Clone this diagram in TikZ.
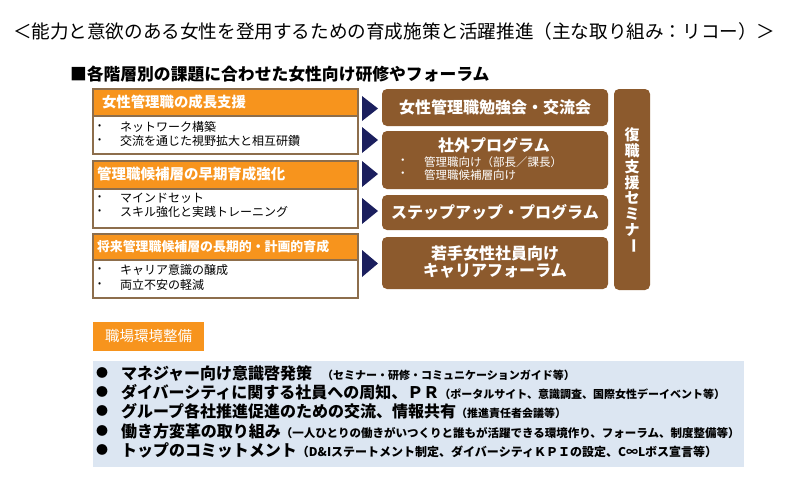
\documentclass[tikz,border=0pt]{standalone}
\usepackage{fontspec}
\setmainfont{Noto Sans CJK JP}
\newcommand{\fs}[1]{\fontsize{#1}{#1}\selectfont}
\definecolor{orng}{HTML}{F7941D}
\definecolor{brwn}{HTML}{8C5A2D}
\definecolor{bord}{HTML}{8D6E4C}
\definecolor{navy}{HTML}{1B1F5E}
\definecolor{lblue}{HTML}{DCE6F2}
\tikzset{
  txt/.style={inner sep=0pt, outer sep=0pt, anchor=west},
  ctxt/.style={inner sep=0pt, outer sep=0pt, anchor=center},
  hdrfill/.style={fill=orng, draw=none},
  boxline/.style={draw=bord, line width=1.3pt},
  brownbox/.style={fill=brwn, draw=none, rounded corners=5pt},
  tri/.style={fill=navy, draw=none},
  wt/.style={text=white},
}
\begin{document}
\begin{tikzpicture}[x=1pt,y=-1pt]
\useasboundingbox[fill=white] (0,0) rectangle (788,493);

% title
\node[txt] (title) at (13,31) {\fs{18.6}＜能力と意欲のある女性を登用するための育成施策と活躍推進（主な取り組み：リコー）＞};
\node[txt] (sec) at (70,74) {\fs{16.8}\bfseries ■各階層別の課題に合わせた女性向け研修やフォーラム};

% left boxes
\fill[orng] (93,89) rectangle (358,116);
\draw[boxline] (93,89) rectangle (358,154);
\draw[boxline] (93,116) -- (358,116);
\node[txt,wt] (h1) at (102,102) {\fs{14.4}\bfseries 女性管理職の成長支援};
\node[txt] (b1a) at (98,127) {\fs{9}•};
\node[txt] (t1a) at (120,127) {\fs{12}ネットワーク構築};
\node[txt] (b1b) at (98,141) {\fs{9}•};
\node[txt] (t1b) at (120,141) {\fs{12}交流を通じた視野拡大と相互研鑽};

\fill[orng] (93,161) rectangle (358,189);
\draw[boxline] (93,161) rectangle (358,228);
\draw[boxline] (93,189) -- (358,189);
\node[txt,wt] (h2) at (97,174) {\fs{14.5}\bfseries 管理職候補層の早期育成強化};
\node[txt] (b2a) at (98,198) {\fs{9}•};
\node[txt] (t2a) at (120,198) {\fs{12}マインドセット};
\node[txt] (b2b) at (98,212) {\fs{9}•};
\node[txt] (t2b) at (120,212) {\fs{12}スキル強化と実践トレーニング};

\fill[orng] (93,234) rectangle (358,260);
\draw[boxline] (93,234) rectangle (358,298);
\draw[boxline] (93,260) -- (358,260);
\node[txt,wt] (h3) at (97,247) {\fs{12.9}\bfseries 将来管理職候補層の長期的・計画的育成};
\node[txt] (b3a) at (98,270) {\fs{9}•};
\node[txt] (t3a) at (120,270) {\fs{12}キャリア意識の醸成};
\node[txt] (b3b) at (98,285) {\fs{9}•};
\node[txt] (t3b) at (120,285) {\fs{12}両立不安の軽減};

% triangles
\fill[tri] (362,96) -- (378,108.5) -- (362,121) -- cycle;
\fill[tri] (362,127) -- (378,140) -- (362,153) -- cycle;
\fill[tri] (362,161) -- (378,174) -- (362,187) -- cycle;
\fill[tri] (362,198) -- (378,211) -- (362,224) -- cycle;
\fill[tri] (362,250) -- (378,263.5) -- (362,277) -- cycle;

% right brown boxes
\fill[brownbox] (382,89) rectangle (608,126);
\node[ctxt,wt] (ra) at (495,107.5) {\fs{16}\bfseries 女性管理職勉強会・交流会};

\fill[brownbox] (382,131) rectangle (608,189);
\node[ctxt,wt] (rb) at (494,145) {\fs{16}\bfseries 社外プログラム};
\node[txt,wt] (rb1d) at (397,162) {\fs{11.5}・};
\node[txt,wt] (rb1) at (424,162) {\fs{11.5}管理職向け（部長／課長）};
\node[txt,wt] (rb2d) at (397,175) {\fs{11.5}・};
\node[txt,wt] (rb2) at (424,175) {\fs{11.5}管理職候補層向け};

\fill[brownbox] (382,195) rectangle (608,230);
\node[ctxt,wt] (rc) at (495,212) {\fs{16}\bfseries ステップアップ・プログラム};

\fill[brownbox] (382,237) rectangle (608,289);
\node[ctxt,wt] (rd1) at (495,253) {\fs{16}\bfseries 若手女性社員向け};
\node[ctxt,wt] (rd2) at (495,271) {\fs{16}\bfseries キャリアフォーラム};

% vertical box
\fill[brownbox] (614,89) rectangle (650,290);
\foreach \c [count=\i from 0] in {復,職,支,援,セ,ミ,ナ}{
  \node[ctxt,wt] (v\i) at (632,{135+15.8*\i}) {\fs{15}\bfseries \c};
}
\node[ctxt,wt] (v7) at (632,246) {\fs{15}\bfseries \rotatebox[origin=c]{-90}{ー}};

% bottom section
\fill[orng] (93,322) rectangle (204,351);
\node[ctxt,wt] (env) at (148.5,336.5) {\fs{14.5}職場環境整備};

\fill[lblue] (93,361) rectangle (744,467);
\foreach \yy/\nm in {373/l1,392/l2,411/l3,431/l4,450/l5}{
  \node[ctxt] (dot\nm) at (102,\yy) {\fs{12}●};
}
\node[txt] (l1) at (121,373) {\fs{16}\bfseries マネジャー向け意識啓発策\hspace{10pt}\fs{11}（セミナー・研修・コミュニケーションガイド等）};
\node[txt] (l2) at (121,392) {\fs{16}\bfseries ダイバーシティに関する社員への周知、ＰＲ\fs{11}（ポータルサイト、意識調査、国際女性デーイベント等）};
\node[txt] (l3) at (121,411) {\fs{16}\bfseries グループ各社推進促進のための交流、情報共有\fs{11}（推進責任者会議等）};
\node[txt] (l4) at (121,431) {\fs{16}\bfseries 働き方変革の取り組み\fs{11.5}（一人ひとりの働きがいつくりと誰もが活躍できる環境作り、フォーラム、制度整備等）};
\node[txt] (l5) at (121,450) {\fs{16}\bfseries トップのコミットメント\fs{12}（D\&Iステートメント制定、ダイバーシティＫＰＩの設定、C∞Lボス宣言等）};
\end{tikzpicture}
\end{document}
